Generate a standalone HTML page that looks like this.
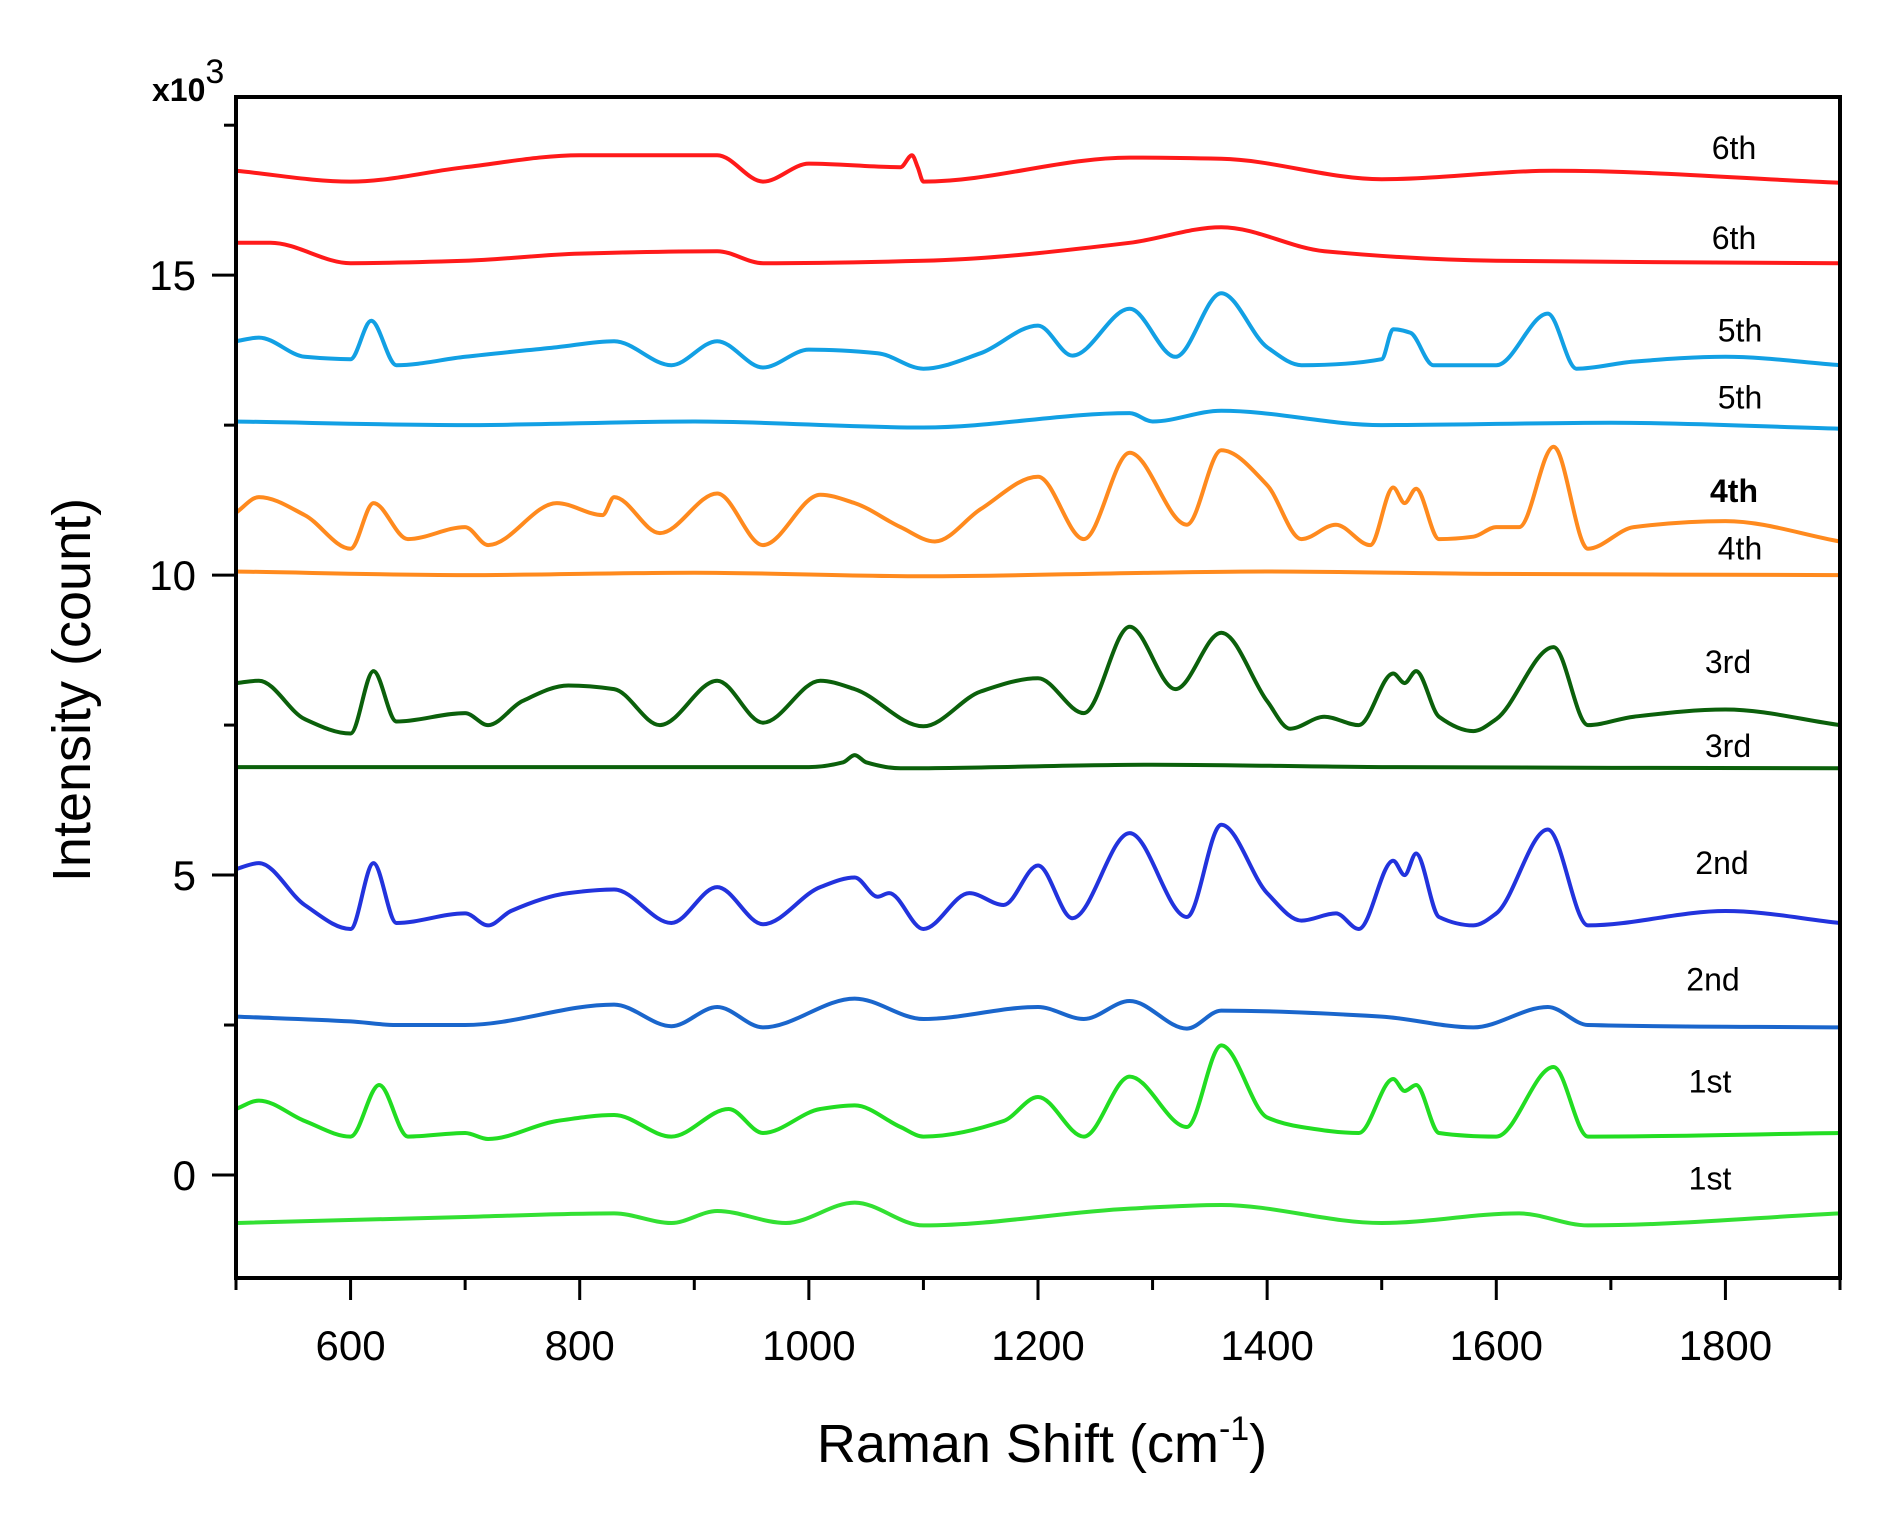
<!DOCTYPE html>
<html><head><meta charset="utf-8"><style>
html,body{margin:0;padding:0;background:#fff;}
svg{display:block;font-family:"Liberation Sans",Arial,sans-serif;}
</style></head><body>
<svg id="chart" width="1879" height="1515" viewBox="0 0 1879 1515" xmlns="http://www.w3.org/2000/svg">
<rect width="1879" height="1515" fill="#fff"/>
<g id="series"></g>
<g id="axes"></g>
<text x="0" y="0" transform="translate(90,690) rotate(-90)" text-anchor="middle" font-size="54" fill="#000">Intensity (count)</text>
<text x="1042" y="1462" text-anchor="middle" font-size="54" fill="#000">Raman Shift (cm<tspan dy="-22" font-size="34">-1</tspan><tspan dy="22">)</tspan></text>
<text x="152" y="101" font-size="32" font-weight="bold" fill="#000">x10<tspan dy="-18" font-size="34" font-weight="normal">3</tspan></text>
</svg>
<script>
const xTicks=[600,800,1000,1200,1400,1600,1800];
const xMinor=[500,700,900,1100,1300,1500,1700,1900];
const yTicks=[0,5,10,15];
const yMinor=[2.5,7.5,12.5,17.5];
const labels=["6th","6th","5th","5th","4th","4th","3rd","3rd","2nd","2nd","1st","1st"];
const colors=["#ff1a1a","#ff1a1a","#12a0e4","#12a0e4","#ff8a1e","#ff8a1e","#0b600b","#0b600b","#2233dd","#1a66cc","#22dd22","#33e033"];
const labelX=[1734,1734,1740,1740,1734,1740,1728,1728,1722,1713,1710,1710];
const labelVal=[17.12,15.62,14.08,12.96,11.4,10.44,8.55,7.15,5.2,3.26,1.56,-0.06];

const s6aX=[500,600,700,800,920,960,1000,1080,1090,1095,1100,1280,1360,1500,1650,1900];
const s6aY=[16.74,16.56,16.80,17.00,17.00,16.56,16.86,16.80,17.00,16.80,16.56,16.96,16.94,16.60,16.74,16.54];
const s6bX=[500,530,600,700,800,920,960,1100,1280,1360,1450,1600,1900];
const s6bY=[15.54,15.54,15.20,15.24,15.36,15.40,15.20,15.24,15.54,15.80,15.40,15.24,15.20];
const s5aX=[500,520,560,600,618,640,700,780,830,880,920,960,1000,1060,1100,1150,1200,1230,1280,1320,1360,1400,1430,1500,1510,1525,1545,1600,1645,1670,1720,1800,1900];
const s5aY=[13.90,13.96,13.64,13.60,14.24,13.50,13.64,13.80,13.90,13.50,13.90,13.46,13.76,13.70,13.44,13.70,14.16,13.66,14.44,13.64,14.70,13.80,13.50,13.60,14.10,14.04,13.50,13.50,14.36,13.44,13.56,13.64,13.50];
const s5bX=[500,700,900,1100,1280,1300,1360,1500,1700,1900];
const s5bY=[12.56,12.50,12.56,12.46,12.70,12.56,12.74,12.50,12.54,12.44];
const s4aX=[500,520,560,600,620,650,700,720,780,820,830,870,920,960,1010,1040,1080,1110,1150,1200,1240,1280,1330,1360,1400,1430,1460,1490,1510,1520,1530,1550,1580,1600,1620,1650,1680,1720,1800,1900];
const s4aY=[11.04,11.30,11.00,10.44,11.20,10.60,10.80,10.50,11.20,11.00,11.30,10.70,11.36,10.50,11.34,11.20,10.80,10.56,11.10,11.64,10.60,12.04,10.84,12.08,11.50,10.60,10.84,10.50,11.46,11.20,11.44,10.60,10.64,10.80,10.80,12.14,10.44,10.80,10.90,10.56];
const s4bX=[500,700,900,1100,1300,1400,1600,1900];
const s4bY=[10.06,10.00,10.04,9.98,10.04,10.06,10.02,10.00];
const s3aX=[500,520,560,600,620,640,700,720,750,790,830,870,920,960,1010,1040,1100,1150,1200,1240,1280,1320,1360,1400,1420,1450,1480,1510,1520,1530,1550,1580,1600,1650,1680,1720,1800,1900];
const s3aY=[8.20,8.24,7.60,7.36,8.40,7.56,7.70,7.50,7.90,8.16,8.10,7.50,8.24,7.54,8.24,8.10,7.48,8.06,8.28,7.70,9.14,8.10,9.04,7.90,7.44,7.64,7.50,8.36,8.20,8.40,7.64,7.40,7.60,8.80,7.50,7.64,7.76,7.50];
const s3bX=[500,700,1000,1030,1040,1050,1080,1300,1500,1900];
const s3bY=[6.80,6.80,6.80,6.88,7.00,6.88,6.78,6.84,6.80,6.78];
const s2aX=[500,520,560,600,620,640,700,720,740,790,830,880,920,960,1010,1040,1060,1070,1100,1140,1170,1200,1230,1280,1330,1360,1400,1430,1460,1480,1510,1520,1530,1550,1580,1600,1645,1680,1800,1900];
const s2aY=[5.10,5.20,4.50,4.10,5.20,4.20,4.36,4.16,4.40,4.70,4.76,4.20,4.80,4.18,4.80,4.96,4.64,4.70,4.10,4.70,4.50,5.16,4.28,5.70,4.30,5.84,4.70,4.24,4.36,4.10,5.24,5.00,5.36,4.30,4.16,4.36,5.76,4.16,4.40,4.20];
const s2bX=[500,600,640,700,830,880,920,960,1040,1100,1200,1240,1280,1330,1360,1500,1580,1645,1680,1900];
const s2bY=[2.64,2.56,2.50,2.50,2.84,2.48,2.80,2.46,2.94,2.60,2.80,2.60,2.90,2.44,2.74,2.64,2.46,2.80,2.50,2.46];
const s1aX=[500,520,560,600,625,650,700,720,780,830,880,930,960,1010,1040,1080,1100,1170,1200,1240,1280,1330,1360,1400,1430,1480,1510,1520,1530,1550,1600,1650,1680,1900];
const s1aY=[1.10,1.24,0.90,0.64,1.50,0.64,0.70,0.60,0.90,1.00,0.64,1.10,0.70,1.10,1.16,0.80,0.64,0.90,1.30,0.64,1.64,0.80,2.16,0.96,0.80,0.70,1.60,1.40,1.50,0.70,0.64,1.80,0.64,0.70];
const s1bX=[500,700,830,880,920,980,1040,1100,1280,1360,1500,1620,1680,1900];
const s1bY=[-0.80,-0.70,-0.64,-0.80,-0.60,-0.80,-0.46,-0.84,-0.56,-0.50,-0.80,-0.64,-0.84,-0.64];

const seriesX=[s6aX,s6bX,s5aX,s5bX,s4aX,s4bX,s3aX,s3bX,s2aX,s2bX,s1aX,s1bX];
const seriesY=[s6aY,s6bY,s5aY,s5bY,s4aY,s4bY,s3aY,s3bY,s2aY,s2bY,s1aY,s1bY];

const L=236,R=1840,T=97,B=1278;
const X0=500,X1=1900,Y0=-1.717,Y1=17.97;
function sx(v){return L+(v-X0)/(X1-X0)*(R-L);}
function sy(v){return B-(v-Y0)/(Y1-Y0)*(B-T);}
const NS="http://www.w3.org/2000/svg";
const gS=document.getElementById('series'), gA=document.getElementById('axes');

function monoPath(xs,ys){
  const px=xs.map(sx), py=ys.map(sy), n=px.length;
  const d=[], m=new Array(n);
  for(let i=0;i<n-1;i++) d.push((py[i+1]-py[i])/(px[i+1]-px[i]));
  m[0]=d[0]; m[n-1]=d[n-2];
  for(let i=1;i<n-1;i++){
    if(d[i-1]*d[i]<=0) m[i]=0;
    else { const h0=px[i]-px[i-1],h1=px[i+1]-px[i];
      m[i]=3*(h0+h1)/((2*h1+h0)/d[i-1]+(h1+2*h0)/d[i]); }
  }
  let s="M"+px[0].toFixed(1)+","+py[0].toFixed(1);
  for(let i=0;i<n-1;i++){
    const h=(px[i+1]-px[i])/3;
    s+=" C"+(px[i]+h).toFixed(1)+","+(py[i]+m[i]*h).toFixed(1)+" "+(px[i+1]-h).toFixed(1)+","+(py[i+1]-m[i+1]*h).toFixed(1)+" "+px[i+1].toFixed(1)+","+py[i+1].toFixed(1);
  }
  return s;
}
for(let i=0;i<seriesX.length;i++){
  const path=document.createElementNS(NS,'path');
  path.setAttribute('d',monoPath(seriesX[i],seriesY[i]));
  path.setAttribute('fill','none');
  path.setAttribute('stroke',colors[i]);
  path.setAttribute('stroke-width','4');
  path.setAttribute('stroke-linejoin','round');
  
  
  gS.appendChild(path);
  const t=document.createElementNS(NS,'text');
  t.setAttribute('x',labelX[i]);
  t.setAttribute('y',sy(labelVal[i])+11);
  t.setAttribute('text-anchor','middle');
  t.setAttribute('font-size','32');
  if(i===4) t.setAttribute('font-weight','bold');
  t.textContent=labels[i];
  
  
  gS.appendChild(t);
}
function el(tag,attrs){const e=document.createElementNS(NS,tag);for(const k in attrs)e.setAttribute(k,attrs[k]);gA.appendChild(e);return e;}
const frame=el('rect',{x:L,y:T,width:R-L,height:B-T,fill:'none',stroke:'#000','stroke-width':4});


xTicks.forEach(v=>{
  const ln=el('line',{x1:sx(v),x2:sx(v),y1:B,y2:B+22,stroke:'#000','stroke-width':3});
  
  
  const t=el('text',{x:sx(v),y:B+82,'text-anchor':'middle','font-size':'42'});
  t.textContent=v;
  
  
});
xMinor.forEach(v=>{
  const ln=el('line',{x1:sx(v),x2:sx(v),y1:B,y2:B+12,stroke:'#000','stroke-width':3});
  
  
});
yTicks.forEach(v=>{
  const ln=el('line',{x1:L-24,x2:L,y1:sy(v),y2:sy(v),stroke:'#000','stroke-width':3});
  
  
  const t=el('text',{x:L-40,y:sy(v)+15,'text-anchor':'end','font-size':'42'});
  t.textContent=v;
  
  
});
yMinor.forEach(v=>{
  const ln=el('line',{x1:L-12,x2:L,y1:sy(v),y2:sy(v),stroke:'#000','stroke-width':3});
  
  
});
</script>
</body></html>
